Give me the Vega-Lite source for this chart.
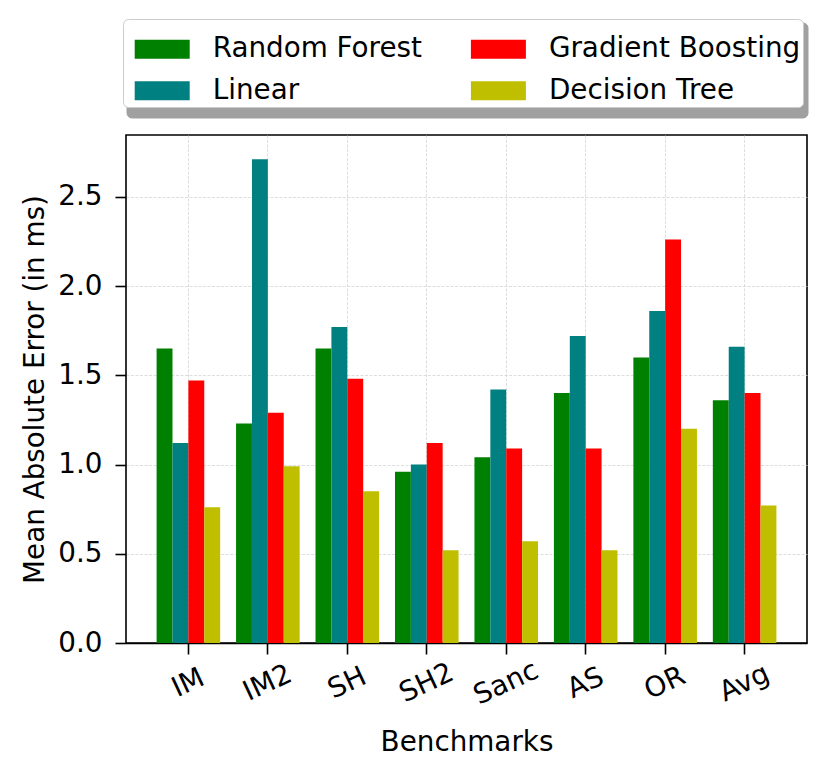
{
  "$schema": "https://vega.github.io/schema/vega-lite/v6.json",
  "width": 681,
  "height": 508,
  "autosize": {"type": "none"},
  "padding": {"left": 126, "top": 135, "right": 24, "bottom": 135},
  "background": "white",
  "data": {
    "values": [
      {"bench": "IM", "model": "Random Forest", "mae": 1.65},
      {"bench": "IM", "model": "Linear", "mae": 1.12},
      {"bench": "IM", "model": "Gradient Boosting", "mae": 1.47},
      {"bench": "IM", "model": "Decision Tree", "mae": 0.76},
      {"bench": "IM2", "model": "Random Forest", "mae": 1.23},
      {"bench": "IM2", "model": "Linear", "mae": 2.71},
      {"bench": "IM2", "model": "Gradient Boosting", "mae": 1.29},
      {"bench": "IM2", "model": "Decision Tree", "mae": 0.99},
      {"bench": "SH", "model": "Random Forest", "mae": 1.65},
      {"bench": "SH", "model": "Linear", "mae": 1.77},
      {"bench": "SH", "model": "Gradient Boosting", "mae": 1.48},
      {"bench": "SH", "model": "Decision Tree", "mae": 0.85},
      {"bench": "SH2", "model": "Random Forest", "mae": 0.96},
      {"bench": "SH2", "model": "Linear", "mae": 1.0},
      {"bench": "SH2", "model": "Gradient Boosting", "mae": 1.12},
      {"bench": "SH2", "model": "Decision Tree", "mae": 0.52},
      {"bench": "Sanc", "model": "Random Forest", "mae": 1.04},
      {"bench": "Sanc", "model": "Linear", "mae": 1.42},
      {"bench": "Sanc", "model": "Gradient Boosting", "mae": 1.09},
      {"bench": "Sanc", "model": "Decision Tree", "mae": 0.57},
      {"bench": "AS", "model": "Random Forest", "mae": 1.4},
      {"bench": "AS", "model": "Linear", "mae": 1.72},
      {"bench": "AS", "model": "Gradient Boosting", "mae": 1.09},
      {"bench": "AS", "model": "Decision Tree", "mae": 0.52},
      {"bench": "OR", "model": "Random Forest", "mae": 1.6},
      {"bench": "OR", "model": "Linear", "mae": 1.86},
      {"bench": "OR", "model": "Gradient Boosting", "mae": 2.26},
      {"bench": "OR", "model": "Decision Tree", "mae": 1.2},
      {"bench": "Avg", "model": "Random Forest", "mae": 1.36},
      {"bench": "Avg", "model": "Linear", "mae": 1.66},
      {"bench": "Avg", "model": "Gradient Boosting", "mae": 1.4},
      {"bench": "Avg", "model": "Decision Tree", "mae": 0.77}
    ]
  },
  "mark": {"type": "bar"},
  "encoding": {
    "x": {
      "field": "bench",
      "type": "nominal",
      "sort": ["IM", "IM2", "SH", "SH2", "Sanc", "AS", "OR", "Avg"],
      "scale": {"paddingInner": 0.2, "paddingOuter": 0.385},
      "axis": {
        "title": "Benchmarks",
        "labelAngle": -25,
        "labelAlign": "center",
        "labelBaseline": "middle",
        "labelPadding": 29,
        "titleY": 107,
        "titleBaseline": "alphabetic",
        "grid": true,
        "domain": true,
        "domainColor": "black",
        "domainWidth": 1.6
      }
    },
    "xOffset": {
      "field": "model",
      "type": "nominal",
      "sort": ["Random Forest", "Linear", "Gradient Boosting", "Decision Tree"],
      "scale": {"paddingInner": 0, "paddingOuter": 0}
    },
    "y": {
      "field": "mae",
      "type": "quantitative",
      "scale": {"domain": [0, 2.846], "nice": false, "zero": true},
      "axis": {
        "title": "Mean Absolute Error (in ms)",
        "values": [0, 0.5, 1, 1.5, 2, 2.5],
        "format": ".1f",
        "labelPadding": 13,
        "titleX": -83,
        "titleBaseline": "alphabetic",
        "gridOpacity": {"condition": {"test": "datum.value === 0", "value": 0}, "value": 1}
      }
    },
    "color": {
      "field": "model",
      "type": "nominal",
      "scale": {
        "domain": ["Random Forest", "Linear", "Gradient Boosting", "Decision Tree"],
        "range": ["#008000", "#008080", "#ff0000", "#bfbf00"]
      },
      "legend": {
        "title": null,
        "orient": "none",
        "legendX": -3,
        "legendY": -116,
        "zindex": 3,
        "columns": 2,
        "symbolType": "M-1,-0.345L1,-0.345L1,0.345L-1,0.345Z",
        "symbolSize": 3025,
        "symbolStrokeWidth": 0,
        "symbolOpacity": 1,
        "symbolOffset": 9.4,
        "labelOffset": 23,
        "labelLimit": 400,
        "columnPadding": 39.2,
        "rowPadding": -3.5,
        "padding": 2.3,
        "strokeColor": "#cccccc",
        "fillColor": "white",
        "cornerRadius": 5
      }
    },
    "opacity": {
      "field": "model",
      "type": "nominal",
      "scale": {
        "domain": ["Linear", "Random Forest", "Decision Tree", "Gradient Boosting"],
        "range": [1, 1, 1, 1]
      },
      "legend": {
        "title": null,
        "orient": "none",
        "legendX": 0.5,
        "legendY": -112.5,
        "zindex": 1,
        "columns": 2,
        "symbolType": "M-1,-0.62L1,-0.62L1,0.62L-1,0.62Z",
        "symbolSize": 3025,
        "symbolStrokeWidth": 0,
        "symbolFillColor": "#a0a0a0",
        "symbolStrokeColor": "#a0a0a0",
        "symbolOffset": 0,
        "labelOffset": 0,
        "labelExpr": "''",
        "labelFontSize": 0.1,
        "columnPadding": 566,
        "rowPadding": -14.4,
        "padding": 2.3,
        "strokeColor": "#a0a0a0",
        "fillColor": "#a0a0a0",
        "cornerRadius": 5
      }
    }
  },
  "config": {
    "font": "DejaVu Sans",
    "view": {"stroke": "black", "strokeWidth": 1.6},
    "axis": {
      "domain": false,
      "labelFont": "DejaVu Sans",
      "labelFontSize": 27.8,
      "labelColor": "black",
      "titleFont": "DejaVu Sans",
      "titleFontSize": 27.8,
      "titleFontWeight": "normal",
      "titleColor": "black",
      "tickColor": "black",
      "tickSize": 11,
      "tickWidth": 1.6,
      "gridColor": "#d0d0d0",
      "gridWidth": 0.7,
      "gridDash": [3, 1.5]
    },
    "legend": {
      "labelFont": "DejaVu Sans",
      "labelFontSize": 27.8,
      "labelColor": "black"
    }
  }
}
